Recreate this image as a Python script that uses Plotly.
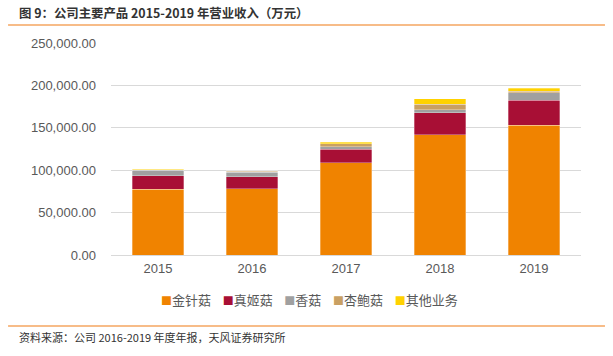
import plotly.graph_objects as go

years = ["2015", "2016", "2017", "2018", "2019"]
jinzhengu = [77600, 78400, 108600, 141600, 153300]
zhenjigu = [15700, 13800, 16100, 25900, 29400]
xianggu = [6700, 5400, 2800, 3500, 8700]
xingbaogu = [400, 1000, 3900, 7000, 1600]
qita = [800, 1000, 1500, 6300, 3500]

series = [
    ("金针菇", jinzhengu, "#F08300"),
    ("真姬菇", zhenjigu, "#A80F35"),
    ("香菇", xianggu, "#A0A0A0"),
    ("杏鲍菇", xingbaogu, "#C9A063"),
    ("其他业务", qita, "#FFD200"),
]

fig = go.Figure()
for name, vals, color in series:
    fig.add_trace(go.Bar(
        x=years, y=vals, name=name, showlegend=False,
        marker=dict(color=color, line=dict(color="rgba(255,255,255,0.6)", width=0.5)),
    ))

legend_text = "&nbsp;&nbsp;&nbsp;&nbsp;".join(
    f"<span style='color:{c};font-size:11px'>■</span>{n}" for n, _, c in series
)

fig.update_layout(
    barmode="stack",
    bargap=0.45,
    width=613, height=356,
    margin=dict(l=111, r=32, t=43, b=101),
    paper_bgcolor="white", plot_bgcolor="white",
    font=dict(family="Liberation Sans, Arial, sans-serif", size=12, color="#595959"),
    showlegend=False,
    xaxis=dict(showline=False, ticks="", tickfont=dict(size=13, color="#595959"),
               ticklabelstandoff=4),
    yaxis=dict(range=[0, 250000], dtick=50000, tickformat=",.2f",
               gridcolor="#D9D9D9", gridwidth=1, zeroline=True, zerolinecolor="#D9D9D9",
               zerolinewidth=1, showline=False, ticklabelstandoff=14,
               tickfont=dict(size=13, color="#595959")),
    shapes=[
        dict(type="line", xref="paper", yref="paper", x0=-0.219, x1=1.051, y0=1.085, y1=1.085,
             line=dict(color="#F5A660", width=1.5)),
        dict(type="line", xref="paper", yref="paper", x0=-0.219, x1=1.051, y0=-0.335, y1=-0.335,
             line=dict(color="#F5A660", width=1.5)),
    ],
    annotations=[
        dict(text="<b>图 9：公司主要产品 2015-2019 年营业收入（万元）</b>", xref="paper", yref="paper",
             x=-0.2, y=1.1415, xanchor="left", yanchor="middle", showarrow=False,
             font=dict(family="Noto Sans CJK SC", size=12.4, color="#333333")),
        dict(text=legend_text, xref="paper", yref="paper",
             x=0.423, y=-0.212, xanchor="center", yanchor="middle", showarrow=False,
             font=dict(family="Noto Sans CJK SC", size=13, color="#595959")),
        dict(text="资料来源：公司 2016-2019 年度年报，天风证券研究所", xref="paper", yref="paper",
             x=-0.2, y=-0.387, xanchor="left", yanchor="middle", showarrow=False,
             font=dict(family="Noto Sans CJK SC", size=11, color="#333333")),
    ],
)

fig.write_html("out.html", config={"displayModeBar": False},
               post_script="document.body.style.margin='0';")
